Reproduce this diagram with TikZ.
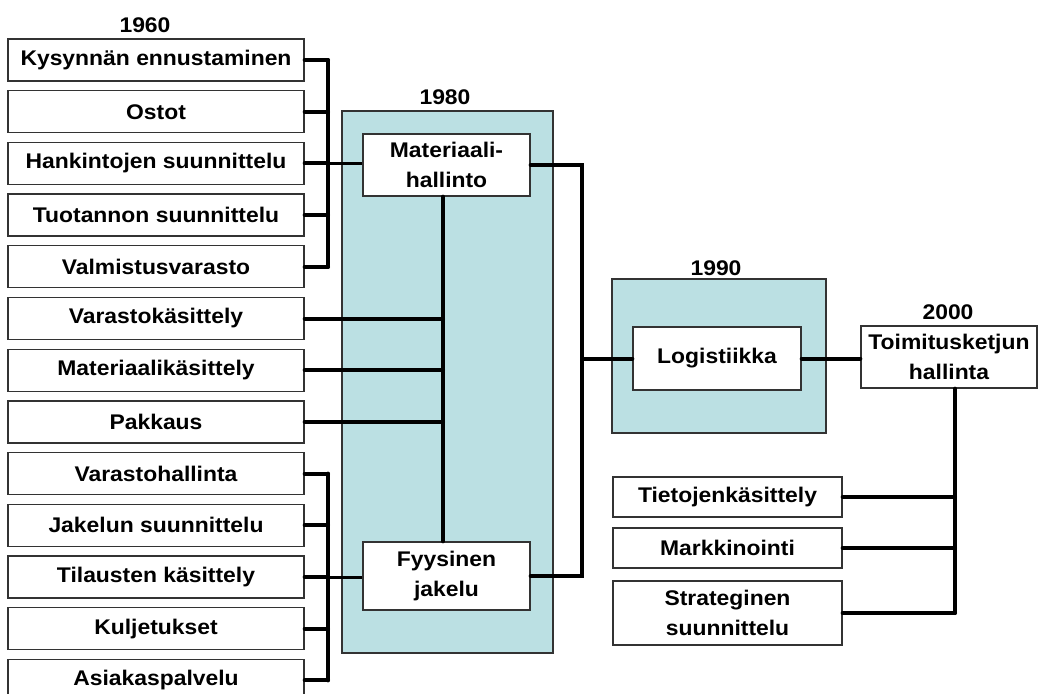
\documentclass[tikz,border=0pt]{standalone}
\usepackage{fontspec}
\setmainfont{Liberation Sans}[FakeStretch=1.08]
\usetikzlibrary{calc}
\tikzset{every picture/.style={line width=0.75pt}}
\definecolor{panelblue}{RGB}{187,224,227}
\tikzset{
  lbl/.style={font=\fontsize{15.9}{22}\selectfont\bfseries, align=center, inner sep=0pt},
  item/.style={lbl, draw=black!80, fill=white, line width=1pt, minimum width=222pt, minimum height=31.5pt},
  bus/.style={line width=3pt, line cap=round},
  link/.style={line width=2.25pt},
  panel/.style={draw=black!80, fill=panelblue, line width=1pt}
}

\begin{document}
\begin{tikzpicture}[x=0.75pt,y=0.75pt,yscale=-1,xscale=1]
\useasboundingbox (0,0) rectangle (1039,693);

%Shape: Rectangle 1980
\draw [panel] (342,111) rectangle (553,653) ;
%Shape: Rectangle 1990
\draw [panel] (612,279) rectangle (826,433) ;

% Text Node
\node [lbl] (y1960) at (145,25) {1960};
\node [lbl] (y1980) at (445,97) {1980};
\node [lbl] (y1990) at (716,268) {1990};
\node [lbl] (y2000) at (948,312) {2000};

% Left boxes
\node [item] (kysynta) at (156,60) {Kysynnän ennustaminen};
\node [item] (ostot) at (156,111.7) {Ostot};
\node [item] (hankinta) at (156,163.4) {Hankintojen suunnittelu};
\node [item] (tuotanto) at (156,215.1) {Tuotannon suunnittelu};
\node [item] (valmistus) at (156,266.8) {Valmistusvarasto};
\node [item] (varastok) at (156,318.5) {Varastokäsittely};
\node [item] (materiaalik) at (156,370.2) {Materiaalikäsittely};
\node [item] (pakkaus) at (156,421.9) {Pakkaus};
\node [item] (varastoh) at (156,473.6) {Varastohallinta};
\node [item] (jakelu) at (156,525.3) {Jakelun suunnittelu};
\node [item] (tilaus) at (156,577) {Tilausten käsittely};
\node [item] (kuljetus) at (156,628.7) {Kuljetukset};
\node [item] (asiakas) at (156,680.4) {Asiakaspalvelu};

% Middle and right boxes
\node [item, minimum width=125.25pt, minimum height=46.5pt] (mathal) at (446.5,165) {Materiaali-\\hallinto};
\node [item, minimum width=125.25pt, minimum height=51pt] (fyys) at (446.5,576) {Fyysinen\\jakelu};
\node [item, minimum width=126pt, minimum height=47.25pt] (logist) at (717,358.5) {Logistiikka};
\node [item, minimum width=132pt, minimum height=46.5pt] (toimitus) at (949,357) {Toimitusketjun\\hallinta};
\node [item, minimum width=171.75pt, minimum height=30pt] (tieto) at (727.5,497) {Tietojenkäsittely};
\node [item, minimum width=171.75pt, minimum height=30pt] (markk) at (727.5,548) {Markkinointi};
\node [item, minimum width=171.75pt, minimum height=48pt] (strat) at (727.5,613) {Strateginen\\suunnittelu};

% Bus positions
\coordinate (busup) at (328,0);
\coordinate (busmid) at (443,0);
\coordinate (busright) at (582,0);
\coordinate (busend) at (955,0);

%Straight Lines 1960
\draw [bus] (kysynta.east) -- (kysynta.east -| busup) ;
\draw [bus] (ostot.east) -- (ostot.east -| busup) ;
\draw [bus] (hankinta.east) -- (hankinta.east -| busup) ;
\draw [bus] (tuotanto.east) -- (tuotanto.east -| busup) ;
\draw [bus] (valmistus.east) -- (valmistus.east -| busup) ;
\draw [bus] (kysynta.east -| busup) -- (valmistus.east -| busup) ;
\draw [link] (hankinta.east -| busup) -- (hankinta.east -| mathal.west) ;

%Straight Lines 1980
\draw [bus] (mathal.south -| busmid) -- (fyys.north -| busmid) ;
\draw [bus] (varastok.east) -- (varastok.east -| busmid) ;
\draw [bus] (materiaalik.east) -- (materiaalik.east -| busmid) ;
\draw [bus] (pakkaus.east) -- (pakkaus.east -| busmid) ;

\draw [bus] (varastoh.east) -- (varastoh.east -| busup) ;
\draw [bus] (jakelu.east) -- (jakelu.east -| busup) ;
\draw [bus] (tilaus.east) -- (tilaus.east -| busup) ;
\draw [bus] (kuljetus.east) -- (kuljetus.east -| busup) ;
\draw [bus] (asiakas.east) -- (asiakas.east -| busup) ;
\draw [bus] (varastoh.east -| busup) -- (asiakas.east -| busup) ;
\draw [link] (tilaus.east -| busup) -- (tilaus.east -| fyys.west) ;

%Straight Lines 1990
\draw [bus] (mathal.east) -- (mathal.east -| busright) -- (fyys.east -| busright) -- (fyys.east) ;
\draw [bus] (logist.west -| busright) -- (logist.west) ;
\draw [bus] (logist.east) -- (logist.east -| toimitus.west) ;

%Straight Lines 2000
\draw [bus] (toimitus.south -| busend) -- (strat.east -| busend) ;
\draw [bus] (tieto.east) -- (tieto.east -| busend) ;
\draw [bus] (markk.east) -- (markk.east -| busend) ;
\draw [bus] (strat.east) -- (strat.east -| busend) ;

\end{tikzpicture}
\end{document}
